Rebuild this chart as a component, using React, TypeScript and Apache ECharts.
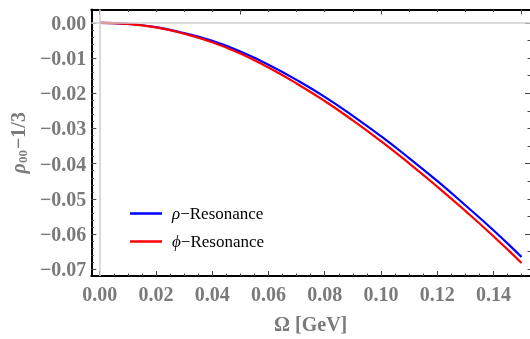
import React, { useEffect, useRef } from "react";
import * as echarts from "echarts";

const omega = [0, 0.01, 0.02, 0.03, 0.04, 0.05, 0.06, 0.07, 0.08, 0.09, 0.1, 0.11, 0.12, 0.13, 0.14, 0.15];
const rhoRes = [0, -0.0003, -0.0012, -0.0029, -0.0051, -0.0081, -0.0119, -0.0162, -0.021, -0.0264, -0.0322, -0.0384, -0.0449, -0.0518, -0.0589, -0.0665];
const phiRes = [0, -0.0003, -0.0013, -0.0031, -0.0055, -0.0087, -0.0127, -0.0172, -0.0222, -0.0277, -0.0336, -0.0399, -0.0465, -0.0534, -0.0606, -0.0682];
const xTicks = [0, 0.02, 0.04, 0.06, 0.08, 0.1, 0.12, 0.14];
const yTicks = [0, -0.01, -0.02, -0.03, -0.04, -0.05, -0.06, -0.07];
const seriesNames = ["ρ−Resonance", "ϕ−Resonance"];

const X_MIN = -0.003;
const X_MAX = 0.153;
const Y_MIN = -0.0719;
const Y_MAX = 0.0038;

function steps(from: number, to: number, step: number): number[] {
  const out: number[] = [];
  const n = Math.round((to - from) / step);
  for (let i = 0; i <= n; i++) out.push(+(from + i * step).toFixed(4));
  return out;
}

export default function App() {
  const ref = useRef<HTMLDivElement>(null);
  useEffect(() => {
    if (!ref.current) return;
    const chart = echarts.init(ref.current, undefined, { renderer: "svg" });
    const labelStyle = {
      fontFamily: "Liberation Serif",
      fontWeight: "bold" as const,
      fontSize: 20,
      color: "#7a7a7a",
    };
    const tickColor = "#444";
    const baseX = { type: "value" as const, min: X_MIN, max: X_MAX, splitLine: { show: false } };
    const baseY = { type: "value" as const, min: Y_MIN, max: Y_MAX, splitLine: { show: false } };
    const fmtY = (v: number) => (Math.abs(v) < 1e-9 ? "0.00" : "−" + Math.abs(v).toFixed(2));
    chart.setOption({
      animation: false,
      grid: { left: 91.3, right: 0, top: 9.5, bottom: 59 },
      xAxis: [
        {
          ...baseX,
          position: "bottom",
          name: "Ω [GeV]",
          nameLocation: "middle",
          nameGap: 38,
          nameTextStyle: { ...labelStyle },
          axisLine: { show: true, onZero: false, lineStyle: { color: "#000", width: 2 } },
          axisTick: { show: true, inside: true, length: 5, customValues: xTicks, lineStyle: { color: tickColor } },
          axisLabel: { show: true, margin: 8, customValues: xTicks, formatter: (v: number) => v.toFixed(2), ...labelStyle },
        },
        {
          ...baseX,
          position: "bottom",
          axisLine: { show: false, onZero: false },
          axisTick: { show: true, inside: true, length: 2.5, customValues: steps(0, 0.15, 0.005), lineStyle: { color: tickColor } },
          axisLabel: { show: false },
        },
        {
          ...baseX,
          position: "top",
          axisLine: { show: true, onZero: false, lineStyle: { color: "#000", width: 2 } },
          axisTick: { show: true, inside: true, length: 5, customValues: [0, 0.05, 0.1, 0.15], lineStyle: { color: tickColor } },
          axisLabel: { show: false },
        },
        {
          ...baseX,
          position: "top",
          axisLine: { show: false, onZero: false },
          axisTick: { show: true, inside: true, length: 2.5, customValues: steps(0, 0.15, 0.01), lineStyle: { color: tickColor } },
          axisLabel: { show: false },
        },
      ],
      yAxis: [
        {
          ...baseY,
          position: "left",
          name: "{r|ρ}{s|00}{t|−1/3}",
          nameLocation: "middle",
          nameGap: 61,
          nameRotate: 90,
          nameTextStyle: {
            ...labelStyle,
            rich: {
              r: { ...labelStyle, fontStyle: "italic" },
              s: { ...labelStyle, fontSize: 13, padding: [9, 1, 0, 0] },
              t: { ...labelStyle },
            },
          },
          axisLine: { show: true, onZero: false, lineStyle: { color: "#000", width: 2 } },
          axisTick: { show: true, inside: true, length: 5, customValues: yTicks, lineStyle: { color: tickColor } },
          axisLabel: { show: true, margin: 5, customValues: yTicks, formatter: fmtY, ...labelStyle },
        },
        {
          ...baseY,
          position: "left",
          axisLine: { show: false, onZero: false },
          axisTick: { show: true, inside: true, length: 2.5, customValues: steps(-0.07, 0, 0.002), lineStyle: { color: tickColor } },
          axisLabel: { show: false },
        },
        {
          ...baseY,
          position: "right",
          axisLine: { show: false, onZero: false },
          axisTick: { show: true, inside: true, length: 5, customValues: [0, -0.02, -0.04, -0.06], lineStyle: { color: tickColor } },
          axisLabel: { show: false },
        },
        {
          ...baseY,
          position: "right",
          axisLine: { show: false, onZero: false },
          axisTick: { show: true, inside: true, length: 2.5, customValues: steps(-0.07, 0, 0.005), lineStyle: { color: tickColor } },
          axisLabel: { show: false },
        },
      ],
      legend: {
        orient: "vertical",
        left: 130,
        top: 204,
        padding: 0,
        itemGap: 9,
        itemWidth: 32,
        itemHeight: 2.5,
        icon: "rect",
        data: seriesNames,
        formatter: (name: string) => `{i|${name[0]}}${name.slice(1)}`,
        textStyle: {
          fontFamily: "Liberation Serif",
          fontSize: 17,
          color: "#000",
          lineHeight: 19,
          padding: [0, 0, 0, 5],
          rich: { i: { fontFamily: "Liberation Serif", fontSize: 17, fontStyle: "italic", color: "#000", lineHeight: 19 } },
        },
      },
      series: [
        {
          type: "line",
          name: "zero",
          data: [],
          z: 1,
          silent: true,
          markLine: {
            silent: true,
            symbol: "none",
            label: { show: false },
            lineStyle: { color: "#cfcfcf", width: 1.5, type: "solid" },
            data: [{ xAxis: 0 }, { yAxis: 0 }],
          },
        },
        {
          type: "line",
          name: seriesNames[0],
          data: omega.map((x, i) => [x, rhoRes[i]]),
          smooth: true,
          showSymbol: false,
          z: 3,
          itemStyle: { color: "#0000ff" },
          lineStyle: { color: "#0000ff", width: 2.2 },
        },
        {
          type: "line",
          name: seriesNames[1],
          data: omega.map((x, i) => [x, phiRes[i]]),
          smooth: true,
          showSymbol: false,
          z: 4,
          itemStyle: { color: "#ff0000" },
          lineStyle: { color: "#ff0000", width: 2.2 },
        },
      ],
    });
    return () => chart.dispose();
  }, []);
  return <div ref={ref} style={{ position: "fixed", left: 0, top: 0, width: 530, height: 339 }} />;
}
